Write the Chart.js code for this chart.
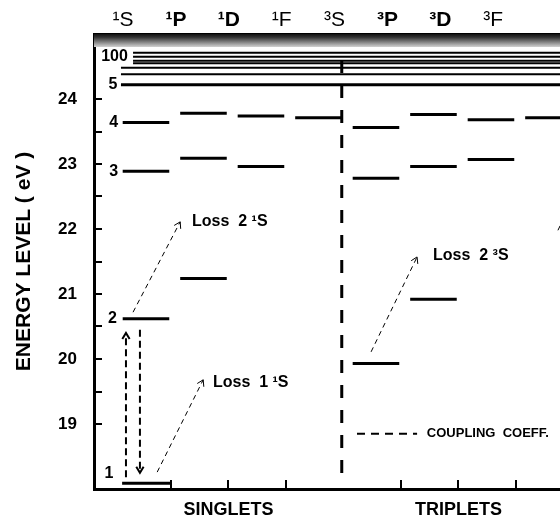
<!DOCTYPE html>
<html>
<head>
<meta charset="utf-8">
<script src="https://cdn.jsdelivr.net/npm/chart.js@4.4.0/dist/chart.umd.min.js"></script>
<style>
  html, body { margin: 0; padding: 0; background: #fff; overflow: hidden; }
  #wrap { width: 640px; height: 524px; }
</style>
</head>
<body>
<div id="wrap"><canvas id="grafico-niveles" width="640" height="524"></canvas></div>
<script>
// columns along the top, groups along the bottom
const termLabels = ['¹S', '¹P', '¹D', '¹F', '³S', '³P', '³D', '³F'];
const groupLabels = ['SINGLETS', 'TRIPLETS'];
const yTicks = [19, 20, 21, 22, 23, 24];

// level energies in eV for each column, lowest first
const singletS = [18.09, 20.62, 22.89, 23.64];
const singletP = [21.24, 23.09, 23.78];
const singletD = [22.96, 23.74];
const singletF = [23.71];
const tripletS = [19.93, 22.78, 23.56];
const tripletP = [20.92, 22.96, 23.76];
const tripletD = [23.07, 23.68];
const tripletF = [23.71];

// n = 5 ... 100, drawn across all columns
const seriesLevels = [24.22, 24.38, 24.48, 24.55, 24.59, 24.65, 24.71];
const levelTags = ['1', '2', '3', '4', '5', '100'];

const lossLabels = ['Loss  2 ¹S', 'Loss  1 ¹S', 'Loss  2 ³S'];
const legendLabel = 'COUPLING  COEFF.';

const columns = [singletS, singletP, singletD, singletF, tripletS, tripletP, tripletD, tripletF];
const nSinglets = 4;

Chart.defaults.font.family = '"Liberation Sans", Arial, sans-serif';
Chart.defaults.color = '#000';

const datasets = [];

// term levels
columns.forEach((levels, c) => {
    levels.forEach((e) => {
        datasets.push({
            data: [{ x: c + 0.16, y: e }, { x: c + 0.97, y: e }],
            borderWidth: 3
        });
    });
});
// ground state runs to the first tick
datasets[0].data[0].x = 0.15;
datasets[0].data[1].x = 1.0;

// high n levels
seriesLevels.forEach((e, k) => {
    datasets.push({
        data: [{ x: k < 3 ? 0.13 : 0.34, y: e }, { x: 9.3, y: e }],
        borderWidth: k === 0 ? 3 : 2
    });
});

// singlet / triplet divider
datasets.push({
    data: [{ x: nSinglets - 0.03, y: 24.6 }, { x: nSinglets - 0.03, y: singletS[0] }],
    borderWidth: 3,
    borderDash: [13, 12]
});

// loss arrows (thin dashes)
const thin = { borderWidth: 1, borderDash: [5, 4], arrow: true };
datasets.push({ ...thin, data: [{ x: 0.34, y: singletS[1] + 0.1 }, { x: 1.16, y: 22.11 }] });
datasets.push({ ...thin, data: [{ x: 0.76, y: singletS[0] + 0.17 }, { x: 1.56, y: 19.68 }] });
datasets.push({ ...thin, data: [{ x: 4.48, y: tripletS[0] + 0.18 }, { x: 5.28, y: 21.57 }] });
datasets.push({ borderWidth: 1, borderDash: [5, 4], data: [{ x: 7.73, y: 21.98 }, { x: 8.5, y: 23.4 }] });

// coupling arrows between 1 and 2 1S
const thick = { borderWidth: 2, borderDash: [7, 4], arrow: true };
datasets.push({ ...thick, data: [{ x: 0.217, y: singletS[0] + 0.09 }, { x: 0.217, y: singletS[1] - 0.22 }] });
datasets.push({ ...thick, data: [{ x: 0.46, y: singletS[1] - 0.17 }, { x: 0.46, y: singletS[0] + 0.16 }] });

// legend sample
datasets.push({ borderWidth: 2, borderDash: [8, 6], data: [{ x: 4.235, y: 18.85 }, { x: 5.28, y: 18.85 }] });

datasets.forEach((ds) => {
    ds.borderColor = '#000';
    ds.showLine = true;
    ds.pointRadius = 0;
});

const annotate = {
    id: 'annotate',
    beforeDatasetsDraw(chart) {
        const { ctx, chartArea: a } = chart;
        const g = ctx.createLinearGradient(0, a.top, 0, a.top + 13);
        g.addColorStop(0, '#111');
        g.addColorStop(0.25, '#333');
        g.addColorStop(1, '#d2d2d2');
        ctx.save();
        ctx.fillStyle = g;
        ctx.fillRect(a.left, a.top, a.right - a.left, 13);
        ctx.restore();
    },
    afterDatasetsDraw(chart) {
        const { ctx, chartArea: a, scales: { x, y } } = chart;
        ctx.save();
        ctx.strokeStyle = '#000';
        ctx.fillStyle = '#000';
        ctx.setLineDash([]);

        // arrow heads
        chart.data.datasets.forEach((ds, i) => {
            if (!ds.arrow) return;
            const pts = chart.getDatasetMeta(i).data;
            const p0 = pts[0], p1 = pts[pts.length - 1];
            const ang = Math.atan2(p1.y - p0.y, p1.x - p0.x);
            ctx.lineWidth = ds.borderWidth;
            ctx.beginPath();
            ctx.moveTo(p1.x - 7 * Math.cos(ang - 0.55), p1.y - 7 * Math.sin(ang - 0.55));
            ctx.lineTo(p1.x, p1.y);
            ctx.lineTo(p1.x - 7 * Math.cos(ang + 0.55), p1.y - 7 * Math.sin(ang + 0.55));
            ctx.stroke();
        });

        // inward ticks
        ctx.lineWidth = 2;
        ctx.beginPath();
        for (let v = yTicks[0]; v <= yTicks[yTicks.length - 1]; v += 0.5) {
            const py = Math.round(y.getPixelForValue(v));
            ctx.moveTo(a.left, py);
            ctx.lineTo(a.left + 8, py);
        }
        for (let c = 1; c <= columns.length; c++) {
            if (c === nSinglets) continue;
            const px = Math.round(x.getPixelForValue(c));
            ctx.moveTo(px, a.bottom);
            ctx.lineTo(px, a.bottom - 9);
        }
        ctx.stroke();

        // level numbers
        ctx.font = 'bold 16px "Liberation Sans", Arial, sans-serif';
        ctx.textAlign = 'right';
        ctx.textBaseline = 'middle';
        const tagPos = [
            [0.0, singletS[0] + 0.14],
            [0.06, singletS[1]],
            [0.08, singletS[2]],
            [0.08, singletS[3]],
            [0.07, seriesLevels[0]],
            [0.25, seriesLevels[5]]
        ];
        levelTags.forEach((t, k) => {
            ctx.fillText(t, x.getPixelForValue(tagPos[k][0]), y.getPixelForValue(tagPos[k][1]));
        });

        // loss labels
        ctx.textAlign = 'left';
        const lossPos = [[1.365, 22.12], [1.73, 19.63], [5.557, 21.585]];
        lossLabels.forEach((t, k) => {
            ctx.fillText(t, x.getPixelForValue(lossPos[k][0]), y.getPixelForValue(lossPos[k][1]));
        });

        // legend text
        ctx.font = 'bold 13px "Liberation Sans", Arial, sans-serif';
        ctx.fillText(legendLabel, x.getPixelForValue(5.45), y.getPixelForValue(18.85));
        ctx.restore();
    }
};

new Chart(document.getElementById('grafico-niveles').getContext('2d'), {
    type: 'scatter',
    data: { datasets },
    options: {
        responsive: false,
        animation: false,
        layout: { padding: 0 },
        elements: { line: { tension: 0 }, point: { radius: 0 } },
        plugins: { legend: { display: false }, tooltip: { enabled: false } },
        scales: {
            x: {
                type: 'linear',
                position: 'bottom',
                min: -0.339,
                max: 9.157,
                afterFit: (s) => { s.height = 35; },
                afterBuildTicks: (s) => {
                    s.ticks = groupLabels.map((_, g) => ({ value: g === 0 ? nSinglets / 2 : nSinglets + (columns.length - nSinglets) / 2 }));
                },
                ticks: {
                    autoSkip: false,
                    maxRotation: 0,
                    padding: 10,
                    font: { size: 18, weight: 'bold' },
                    callback: (v) => groupLabels[v < nSinglets ? 0 : 1]
                },
                grid: { display: false, drawTicks: false },
                border: { display: true, width: 3, color: '#000' }
            },
            xTop: {
                type: 'linear',
                position: 'top',
                min: -0.548,
                max: 9.774,
                afterFit: (s) => { s.height = 34; },
                afterBuildTicks: (s) => {
                    s.ticks = termLabels.map((_, k) => ({ value: k }));
                },
                ticks: {
                    autoSkip: false,
                    maxRotation: 0,
                    padding: 1,
                    font: (ctx) => {
                        const t = termLabels[ctx.index] || '';
                        return { size: 21, weight: /[PD]$/.test(t) ? 'bold' : 'normal' };
                    },
                    callback: (v) => termLabels[v]
                },
                grid: { display: false, drawTicks: false },
                border: { display: true, width: 2, color: '#000' }
            },
            y: {
                type: 'linear',
                min: 18,
                max: 25,
                afterFit: (s) => { s.width = 94; },
                afterBuildTicks: (s) => {
                    s.ticks = yTicks.map((v) => ({ value: v }));
                },
                ticks: {
                    padding: 17,
                    font: { size: 17, weight: 'bold' },
                    callback: (v) => String(v)
                },
                title: {
                    display: true,
                    text: 'ENERGY LEVEL ( eV )',
                    font: { size: 21, weight: 'bold' },
                    padding: { top: 12, bottom: 0 }
                },
                grid: { display: false, drawTicks: false },
                border: { display: true, width: 3, color: '#000' }
            }
        }
    },
    plugins: [annotate]
});
</script>
</body>
</html>
